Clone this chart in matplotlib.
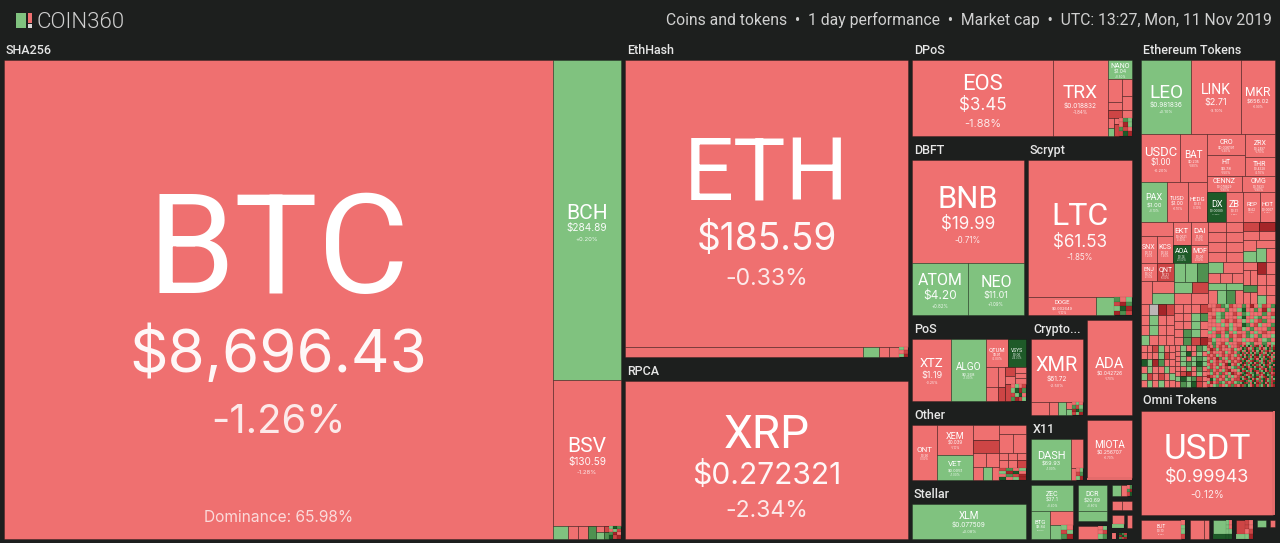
import matplotlib
matplotlib.use("Agg")
import matplotlib.pyplot as plt
from matplotlib.patches import Rectangle

plt.rcParams['font.family'] = ['Roboto', 'DejaVu Sans']

# ---------- values ----------
COIN_SYMBOLS = ["BTC", "BCH", "BSV", "ETH", "XRP", "EOS", "TRX", "NANO", "BNB", "ATOM", "NEO", "LTC", "DOGE",
                "LEO", "LINK", "MKR", "USDC", "BAT", "CRO", "ZRX", "HT", "THR", "CENNZ", "OMG", "PAX", "TUSD",
                "HEDG", "DX", "ZB", "REP", "HOT", "EKT", "DAI", "SNX", "KCS", "AOA", "MOF", "ENJ", "QNT",
                "XTZ", "ALGO", "QTUM", "VSYS", "XMR", "ADA", "MIOTA", "ONT", "XEM", "VET", "DASH", "XLM",
                "ZEC", "DCR", "BTG", "USDT", "BUT"]
COIN_PRICES = ["$8,696.43", "$284.89", "$130.59", "$185.59", "$0.272321", "$3.45", "$0.018832", "$1.04", "$19.99",
               "$4.20", "$11.01", "$61.53", "$0.002649", "$0.981836", "$2.71", "$656.02", "$1.00", "$0.235",
               "$0.036191", "$0.2497", "$3.78", "$0.4328", "$0.078829", "$0.7833", "$1.00", "$1.00", "$0.51",
               "$0.00089", "$0.31", "$8.62", "$0.0007", "$0.0021", "$1.00", "$0.73", "$0.92", "$0.14", "$0.06",
               "$0.07", "$6.21", "$1.19", "$0.268", "$1.91", "$0.06", "$61.72", "$0.042726", "$0.256707", "$0.90",
               "$0.039", "$0.0051", "$69.93", "$0.077509", "$37.1", "$20.69", "$8.84", "$0.99943", "$0.10"]
COIN_CHANGES = [-1.26, 0.20, -1.28, -0.33, -2.34, -1.88, -1.84, 0.50, -0.71, 0.82, 1.09, -1.85, -1.10,
                0.10, -3.10, -0.90, -0.20, -1.80, -1.30, -1.70, -1.50, -2.10, -1.90, -1.90, 0.10, -0.10,
                -0.30, 12.0, -2.00, -1.50, -2.20, -2.40, -0.30, -1.20, -1.40, 11.0, -2.60, -2.10, -6.0,
                -0.25, 1.00, -2.00, 14.0, -2.50, -1.70, -0.70, -0.80, -1.10, 1.00, 1.00, 0.08,
                0.40, 0.80, 0.60, -0.12, -0.50]

# Unlabelled small coins, one letter per coin, by change class.
MINI_SHA = ["gKG", "rgR", "GDr", "KRD"]
MINI_ETH = ["gr", "rR", "gD"]
MINI_DPOS = ["rGg", "rDg", "GRr", "RKD"]
MINI_DOGE = ["Grg", "RDG", "gKD", "DGR"]
MINI_POS = ["rgrR", "gKDG", "RgKr", "GDRg"]
MINI_OTHER = ["RGrg", "gDKr", "rGRD", "KrgD"]
MINI_XMR = ["rgr", "GRg", "DKG", "RgD"]
MINI_X11 = ["rg", "RG", "gD"]
MINI_ZEC = ["gr", "Rg", "GD"]
MINI_DCR = ["rg", "rR", "gG"]
MINI_FR1 = ["rG", "GD", "RK"]
MINI_DOTS = ["KGR", "DKG", "GRD"]
MINI_BUT = ["r", "g", "g", "R"]
MINI_USDT2 = ["gr", "gr", "gg", "KK"]
MINI_USDT3 = ["Rr", "Rr", "rR", "gD"]
ETH_E1 = ["rsDR", "rgrr", "rgrr", "grrr"]
ETH_E2 = ["rrrR", "rrgG", "rrgr", "rGgr", "rGRD"]
ETH_E3 = ["rrRGgRrrGrDrgRrG", "RrrrGrrgKrrGrDgr", "rrgGrrRrGgrrrGrR", "rRgGrrrgKrrgGrrg",
          "rrgrRrRrgrgrRGrr", "rrrgrgrrKGrRgrrG", "rgrrRgrRgrGrrrGR", "grRrGrgrrGrgrRrr",
          "rrGrgRrRrGgrGrrg", "RgrrrGrrgrrRrgGr", "rGrRgrrRrgGrrGrg"]
ETH_F1 = ["rrRgrr", "rrrgRr", "KgDGrr", "rgrrgr", "gRrRrg", "rgrgrr"]
ETH_F2 = ["rgrrGg", "rgKrgr", "rgrgGg", "rgGgKg", "rrgrGr", "rRDrgr", "gKgGRr", "rGgKRr"]
ETH_F3 = ["RrGrRrRgrrR", "rDRgRrrrRgr", "gRrrrRgrRrG", "RrRgrRrRrgR", "rRrDGrgRrRr", "RgrRrRrgRrR",
          "rRrRgrDKrRg", "gRrgRrRrgGR", "RGrRrgRDrrg", "rgRrGRrgDRr", "DRrgRrGrgrR", "rKgRrRgGrRR",
          "gDrRGgRrRgG", "RrgGRrgRGRr"]
ETH_F4 = ["GrDgKrGRDgrKGrDgR", "rKGDrgRKGrDrgKRGD", "DgrKRGrDgKrGRDrgK", "KRGrDgKrGDRgrKGDr",
          "gDrKGRgDKrGRDgKrG", "RKgDGrKRDgGrKDRgr", "GrDKRgGDrKgRGKDrG", "DGKrgRDKGrgDKRGrD",
          "rKDGRgKrDGgRKDrGK", "KDrGgKRDGrKgDRGKr", "GRKDrGKgDRrGKDgRK", "DgGKRrDGKgRDrKGRD",
          "KRDgGrKDRGgKrDGRK", "rGKDRgGKrDRgKGDrR", "DKGrRDgKGRrDKgGRD", "GrDKgRGKDrgRDKGrK",
          "KgRDGKrDgRGKDrGRg", "RDKGrgDKRGrKDgGRD", "gKDRGrKgDRGKrDGRK", "DRGKgrDKRGgDKrGRD"]

GROUP_NAMES = ["SHA256", "EthHash", "RPCA", "DPoS", "DBFT", "Scrypt", "PoS", "Crypto...", "Other", "X11",
               "Stellar", "Ethereum Tokens", "Omni Tokens"]
HEADER_TEXT = "Coins and tokens  \u2022  1 day performance  \u2022  Market cap  \u2022  UTC: 13:27, Mon, 11 Nov 2019"
DOMINANCE = "Dominance: 65.98%"

# ---------- style ----------
BG = "#1d1f1e"
CLASS_COLORS = {"r": "#ef7070", "R": "#cd4545", "D": "#a52528",
                "g": "#80c27f", "G": "#4f9150", "K": "#1e5a28", "s": "#bdb6b6"}
# symbol, price, change font sizes in pixels
FONT_PX = {"BTC": (140, 60, 40), "BCH": (21, 10, 6), "BSV": (21, 10, 6), "ETH": (88, 37, 23), "XRP": (46, 30, 23),
           "EOS": (22, 17, 11), "TRX": (19, 6.5, 4.5), "NANO": (7, 5, 3), "BNB": (31, 17, 8), "ATOM": (16, 12, 4.5),
           "NEO": (16, 9, 4.5), "LTC": (32, 17, 8), "DOGE": (6, 4, 3), "LEO": (19, 6.5, 4), "LINK": (14, 9, 4),
           "MKR": (12, 5.5, 3), "USDC": (13, 8, 4), "BAT": (10, 3.5, 3), "CRO": (7, 3.5, 3), "ZRX": (7, 3, 3),
           "HT": (7, 4, 3), "THR": (7, 3, 3), "CENNZ": (7, 3, 3), "OMG": (7, 3, 3), "PAX": (9, 6, 3), "TUSD": (6, 5, 3),
           "HEDG": (6, 3, 2.5), "DX": (9, 3, 2), "ZB": (9, 3, 2), "REP": (6, 3, 2), "HOT": (6, 3, 2), "EKT": (8, 3, 2.5),
           "DAI": (8, 3, 2.5), "SNX": (7, 3, 2.5), "KCS": (7, 3, 2.5), "AOA": (7, 3, 2.5), "MOF": (7, 3, 2.5),
           "ENJ": (6, 3, 2.5), "QNT": (7, 3, 2.5), "XTZ": (13, 9, 3.5), "ALGO": (10, 4, 3), "QTUM": (6, 3.5, 3),
           "VSYS": (5, 3, 2.5), "XMR": (20, 6.5, 4), "ADA": (15, 5, 3), "MIOTA": (10, 5, 3), "ONT": (8, 3, 2.5),
           "XEM": (9, 4.5, 3), "VET": (8, 4, 3), "DASH": (11, 5.5, 3), "XLM": (10, 6.5, 4), "ZEC": (7, 5, 3),
           "DCR": (7, 5, 3), "BTG": (6, 3.5, 2), "USDT": (35, 18, 10), "BUT": (5, 3, 2)}


# ---------- treemap structure ----------
def H(*kids):
    return ("h", kids)


def V(*kids):
    return ("v", kids)


def G(name, sub):
    return ("g", name, sub)


def row(s):
    return H(*list(s))


def grid(rows):
    return V(*[row(s) for s in rows])


def N(i):
    return GROUP_NAMES[i]


TREE_SHA = H((549, "BTC"), (68, V((320, "BCH"), (146, "BSV"),
             (12, H((15, "g"), (10, "r"), (10, "r"), (8, "G"), (8, V("r", "g")), (5, V("R", "G")), (12, grid(MINI_SHA)))))))
TREE_ETH = V((287, "ETH"), (10, H((238, "r"), (16, "g"), (10, "r"), (10, "r"), (9, grid(MINI_ETH)))))
TREE_DPOS = H((141, "EOS"), (55, "TRX"), (24, V((19, "NANO"),
              (38, H((14, V((23, "r"), (8, "r"), (8, "R"))), (10, V((17, "r"), (13, "r"), (8, "r"))))),
              (18, H((6, V((10, "r"), (8, "g"))), (5, V((6, "r"), (12, "R"))), (13, grid(MINI_DPOS)))))))
TREE_DBFT = V((103, "BNB"), (52, H("ATOM", "NEO")))
TREE_SCRYPT = V((137, "LTC"), (18, H((68, "DOGE"), (18, "g"), (18, grid(MINI_DOGE)))))
POS_LOWER_RIGHT = V((17, H((10, V("R", "r")), (11, V("r", "r", "r")))), (17, H((6, "R"), (15, grid(MINI_POS)))))
TREE_POS = H((39, "XTZ"), (35, "ALGO"), (40, V((28, H((22, "QTUM"), (18, "VSYS"))),
             (34, H((12, V((20, "r"), (14, "r"))), (7, V((20, "r"), (14, "R"))), (21, POS_LOWER_RIGHT))))))
TREE_OTHER = H((25, "ONT"), (36, V((29, "XEM"), (25, "VET"))),
               (26, V((15, "r"), (12, "R"), (14, H("r", "r")), (13, H((10, "r"), (9, "g"), (7, "r"))))),
               (27, V((9, "r"), (18, H("r", "r")), (15, grid(["rrr", "rrR"])), (12, grid(MINI_OTHER)))))
TREE_XMR = V((63, "XMR"), (13, H((18, "r"), (9, "r"), (8, "g"), (6, V("r", "g")), (11, grid(MINI_XMR)))))
TREE_X11 = H((40, "DASH"), (12, V((29, "r"), (12, H((5, "r"), (7, grid(MINI_X11)))))))
TREE_ZEC = V((25, "ZEC"), (27, H((19, "BTG"), (23, V((14, "r"), (13, H((11, "g"), (12, grid(MINI_ZEC)))))))))
TREE_DCR = V((25, "DCR"), (9, "g"))
TREE_DCR2 = H((20, "r"), (9, grid(MINI_DCR)))

# Ethereum Tokens, built block by block
ETOK_A = H((50, "LEO"), (50, "LINK"), (34, "MKR"))
ETOK_B_L = V((47, H((39, "USDC"), (27, "BAT"))), (40, H((26, "PAX"), (21, "TUSD"), (19, "HEDG"))))
ETOK_B_R = V((41, H((38, V((21, "CRO"), (20, "HT"))), (30, V((23, "ZRX"), (18, "THR"))))),
             (16, H((35, "CENNZ"), (33, "OMG"))),
             (30, H((19, "DX"), (17, "ZB"), (17, "REP"), (15, "HOT"))))
ETOK_B = H((66, ETOK_B_L), (68, ETOK_B_R))
C1_TOP = H((32, V((14, "r"), (26, H("SNX", "KCS")))), (36, V((22, H("EKT", "DAI")), (18, H("AOA", "MOF")))))
C1_BL = V((18, H("ENJ", "QNT")), (24, H((11, "r"), (22, V((12, "r"), (12, "g"))))))
C1_BR = V((19, row("ggG")), (12, H((18, "g"), (17, "R"))), (11, row("rr")))
C1 = V((41, C1_TOP), (42, H((33, C1_BL), (35, C1_BR))))
C2 = V((40, grid(["rr", "rr", "rr", "rr"])),
       (42, V((11, H((14, "g"), (19, "r"))), (10, row("rrr")), (7, row("gg")), (15, row("rgGr")))))
C3_TOP = V((9, row("RD")), (9, row("rr")), (22, H((13, V("r", "g")), (19, V((7, "r"), (14, row("gr")))))))
C3_BOT = H((15, V((8, "r"), (15, row("rr")), (7, "G"), (13, row("rr")))),
           (19, V((12, row("Dr")), (11, row("rr")), (10, row("rr")), (10, row("gr")))))
C3 = V((40, C3_TOP), (42, C3_BOT))
ETOK_C = H((68, C1), (67, H((35, C2), (32, C3))))
ETOK_D = H((33, grid(ETH_E1)), (34, grid(ETH_E2)), (67, grid(ETH_E3)))
ETOK_E = H((34, grid(ETH_F1)), (32, grid(ETH_F2)), (33, grid(ETH_F3)), (35, grid(ETH_F4)))
TREE_ETOK = V((74, ETOK_A), (88, ETOK_B), (82, ETOK_C), (41, ETOK_D), (41, ETOK_E))

TREE_OMNI = H((133, "USDT"), (2, "r"))
TREE_FAR1 = H((9, "g"), (6, "r"), (5, grid(MINI_FR1)))
TREE_FAR3 = H((12, V((9, "r"), (4, "g"))), (3, "_"), (5, "r"))
TREE_FAR4 = H((4, "r"), (3, "_"), (8, grid(MINI_DOTS)), (5, "_"))

COL3_BOTTOM = H((46, G(None, TREE_ZEC)), (1, "_"),
                (33, V((41, G(None, TREE_DCR)), (17.5, G(None, TREE_DCR2)))), (1, "_"),
                (24, V((16, G(None, TREE_FAR1)), (14, G(None, row("rr"))), (18, G(None, TREE_FAR3)),
                       (10.5, G(None, TREE_FAR4)))))
COL3_R3_L = V((86, G(N(6), TREE_POS)), (79, G(N(8), TREE_OTHER)), (58.5, G(N(10), "XLM")))
COL3_R3_R = V((100, H((56, G(N(7), TREE_XMR)), (49, G(None, "ADA")))),
              (65, H((56, G(N(9), TREE_X11)), (49, G(None, V((58, "MIOTA"), (2, "r")))))),
              (58.5, COL3_BOTTOM))
COL3 = V((100, G(N(3), TREE_DPOS)),
         (179, H((116, G(N(4), TREE_DBFT)), (108, G(N(5), TREE_SCRYPT)))),
         (223.5, H((118, COL3_R3_L), (1, "_"), (105, COL3_R3_R))))
COL4_ROW = H((48, G(None, H((41, "BUT"), (4, grid(MINI_BUT))))), (1, "_"),
             (23, G(None, H((14, "r"), (5, "r")))),
             (23, G(None, H((13, V((14, "g"), (5, "K"))), (6, grid(MINI_USDT2))))),
             (21, G(None, H((9, V((10, "R"), (3, "g"))), (8, grid(MINI_USDT3))))),
             (13, V((1, G(None, "g")), (1, "_"))), (9, V((1, G(None, "r")), (1, "_"))))
COL4 = V((350.5, G(N(11), TREE_ETOK)), (128.5, G(N(12), TREE_OMNI)), (23.5, COL4_ROW))
ROOT = H((621, G(N(0), TREE_SHA)),
         (287, V((321, G(N(1), TREE_ETH)), (181.5, G(N(2), "XRP")))),
         (224, COL3), (5, "_"), (138, COL4))

# ---------- drawing ----------
fig = plt.figure(figsize=(12.8, 5.43), dpi=100, facecolor=BG)
ax = fig.add_axes([0, 0, 1, 1])
ax.set_xlim(0, 1280)
ax.set_ylim(543, 0)
ax.axis("off")
PX = 0.72


def change_class(c):
    a = abs(c)
    if c < 0:
        return "D" if a >= 10 else "R" if a >= 5 else "r"
    return "K" if a >= 10 else "G" if a >= 5 else "g"


def cell(x0, y0, x1, y1, color):
    tiny = min(x1 - x0, y1 - y0) < 5
    ax.add_patch(Rectangle((x0, y0), x1 - x0, y1 - y0, facecolor=color,
                           edgecolor=(0, 0, 0, 0.2 if tiny else 0.26), linewidth=0.3 if tiny else 0.7))


def label(sym, x0, y0, x1, y1):
    i = COIN_SYMBOLS.index(sym)
    S, P, C = FONT_PX[sym]
    s1, s2 = 0.5 * (S + 1.25 * P), 0.68 * (P + C)
    cx, mid = (x0 + x1) / 2, (y0 + y1) / 2 + 0.225 * S
    ys = mid - (s1 + s2) / 2
    lines = [(sym, S, ys, 1.0, "Roboto", 400), (COIN_PRICES[i], P, ys + s1, 0.95, "Inter", 400),
             (f"{COIN_CHANGES[i]:+.2f}%", C, ys + s1 + s2, 0.85, "Inter", 400)]
    for txt, px, y, alpha, fam, wt in lines:
        ax.text(cx, y + 0.355 * px, txt, color="white", alpha=alpha, fontsize=px * PX, ha="center", va="baseline",
                family=fam, fontweight=wt)


def layout(node, x0, y0, x1, y1):
    if isinstance(node, str):
        if node == "_":
            return
        if len(node) == 1:
            cell(x0, y0, x1, y1, CLASS_COLORS[node])
        else:
            i = COIN_SYMBOLS.index(node)
            cell(x0, y0, x1, y1, CLASS_COLORS[change_class(COIN_CHANGES[i])])
            label(node, x0, y0, x1, y1)
        return
    if node[0] == "g":
        name = node[1]
        top = 22 if name else 3
        if name:
            ax.text(x0 + 4, y0 + 16, name, color="#e6e6e6", fontsize=12.5 * PX, ha="left", va="baseline",
                    fontweight=500)
        layout(node[2], x0 + 2, y0 + top, x1 - 2, y1 - 2)
        return
    kids = [k if isinstance(k, tuple) and len(k) == 2 and not isinstance(k[0], str) else (1, k) for k in node[1]]
    total = sum(w for w, _ in kids)
    pos = 0.0
    for w, kid in kids:
        a, b = pos / total, (pos + w) / total
        if node[0] == "h":
            layout(kid, x0 + (x1 - x0) * a, y0, x0 + (x1 - x0) * b, y1)
        else:
            layout(kid, x0, y0 + (y1 - y0) * a, x1, y0 + (y1 - y0) * b)
        pos += w


layout(ROOT, 2, 38, 1277, 540.5)

# page chrome
ax.add_patch(Rectangle((16, 13), 10, 15, facecolor=CLASS_COLORS["g"], edgecolor="none"))
ax.add_patch(Rectangle((28, 13), 4, 10, facecolor=CLASS_COLORS["r"], edgecolor="none"))
ax.add_patch(Rectangle((28, 24), 4, 4, facecolor="#d8d8d8", edgecolor="none"))
ax.text(36, 28, "COIN360", color="#cfcfcf", fontsize=22.3 * PX, ha="left", va="baseline", fontweight=300)
ax.text(1272, 25.5, HEADER_TEXT, color="#d0d0d0", fontsize=15.8 * PX, ha="right", va="baseline")
ax.text(279, 522, DOMINANCE, color="white", alpha=0.75, fontsize=15.5 * PX, ha="center", va="baseline", family="Inter")

fig.savefig("out.png", dpi=100, facecolor=BG)
